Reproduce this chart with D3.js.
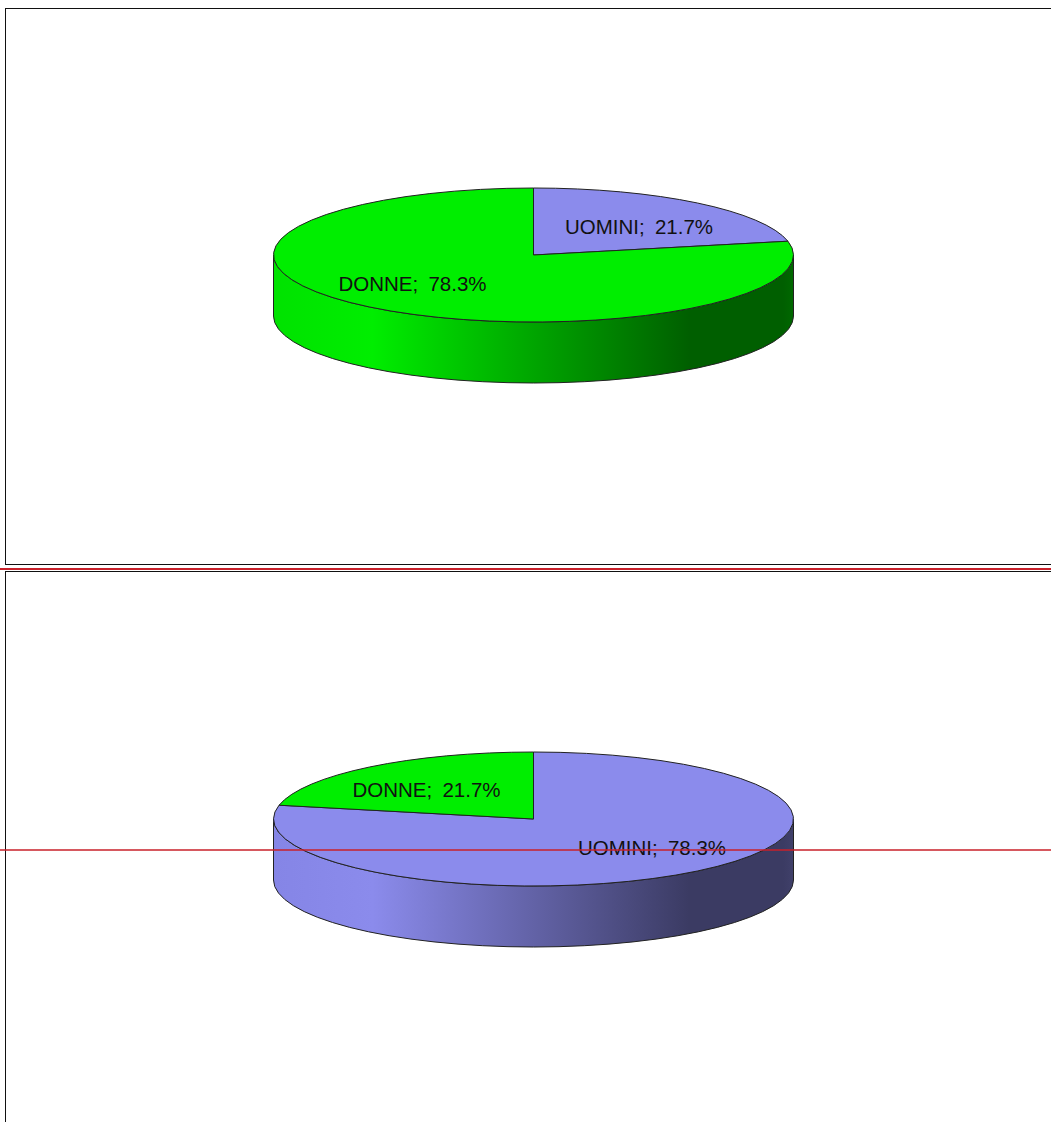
<!DOCTYPE html>
<html>
<head>
<meta charset="utf-8">
<script src="https://cdn.jsdelivr.net/npm/d3@7"></script>
<style>
  html, body { margin: 0; background: #fff; overflow: hidden; }
  svg { display: block; }
  text { font-family: "Liberation Sans", Arial, sans-serif; font-size: 20.5px; word-spacing: 4.5px; fill: #111; }
</style>
</head>
<body>
<svg width="1051" height="1122"></svg>
<script>
const categories = ['UOMINI', 'DONNE'];
const topValues = [21.7, 78.3];
const bottomValues = [78.3, 21.7];

const width = 1051;
const rx = 260;
const ry = 67;
const depth = 61;
const colors = d3.scaleOrdinal(categories, ['#8b8bec', '#00ee00']);
const ramps = {
  UOMINI: ['#8585e6', '#8b8bec', '#3b3b63', '#3b3b63', '#40406a'],
  DONNE: ['#00e200', '#00ee00', '#005f00', '#005f00', '#006800'],
};

const svg = d3.select('svg');
const defs = svg.append('defs');

function frame(y, h) {
  svg.append('rect')
    .attr('x', 5.5).attr('y', y)
    .attr('width', width).attr('height', h)
    .attr('fill', '#fff')
    .attr('stroke', '#111')
    .attr('stroke-width', 1);
}

function wallGradient(name) {
  const g = defs.append('linearGradient').attr('id', `wall-${name}`);
  [0, 0.19, 0.8, 0.98, 1].forEach((o, i) => {
    g.append('stop').attr('offset', o).attr('stop-color', ramps[name][i]);
  });
}

function drawPie(cx, cy, values, labels) {
  const rows = categories.map((c, i) => ({ name: c, value: values[i] }));
  const arcs = d3.pie().sort(null).value((d) => d.value)(rows);
  const arc = d3.arc().innerRadius(0).outerRadius(rx);
  const g = svg.append('g').attr('transform', `translate(${cx},${cy})`);

  // the wall takes the colour of the slice that faces the viewer
  const front = d3.greatest(rows, (d) => d.value).name;
  g.append('path')
    .attr('d', `M${-rx},0 V${depth} A${rx},${ry} 0 0 0 ${rx},${depth} V0 A${rx},${ry} 0 0 1 ${-rx},0 Z`)
    .attr('fill', `url(#wall-${front})`)
    .attr('stroke', '#222')
    .attr('stroke-width', 1);

  g.append('g')
    .attr('transform', `scale(1,${ry / rx})`)
    .selectAll('path')
    .data(arcs)
    .join('path')
      .attr('d', arc)
      .attr('fill', (d) => colors(d.data.name))
      .attr('stroke', '#222')
      .attr('stroke-width', 1)
      .attr('vector-effect', 'non-scaling-stroke');

  labels.forEach((l, i) => {
    g.append('text')
      .attr('x', l[0])
      .attr('y', l[1])
      .text(`${rows[i].name}; ${rows[i].value.toFixed(1)}%`);
  });
}

categories.forEach(wallGradient);

frame(8.5, 556);
frame(571.5, 600);

drawPie(533.5, 255, topValues, [[31.5, -21], [-195, 36]]);
drawPie(533.5, 819, bottomValues, [[44.5, 36], [-181, -22]]);

[[569, 2], [850, 1.5]].forEach(([y, w]) => {
  svg.append('line')
    .attr('x1', 0).attr('x2', width)
    .attr('y1', y).attr('y2', y)
    .attr('stroke', '#c8202a')
    .attr('stroke-width', w);
});
</script>
</body>
</html>
